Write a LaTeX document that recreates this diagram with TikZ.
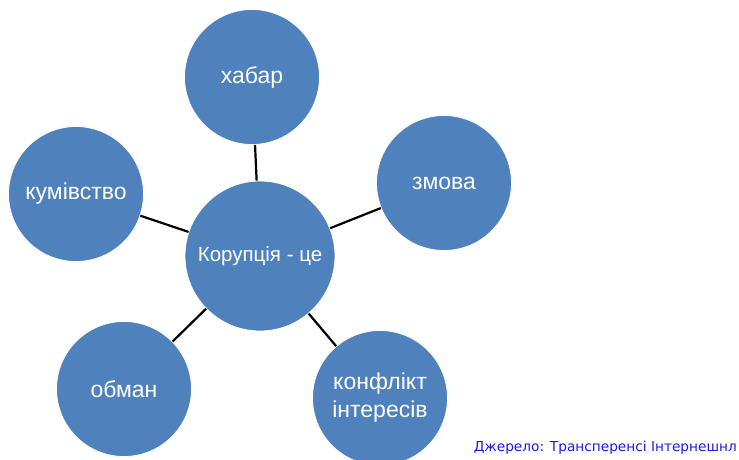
\documentclass[tikz,border=0pt]{standalone}
\usepackage{fontspec}
\setmainfont{Liberation Sans}
\newfontfamily\notefont{DejaVu Sans}
\definecolor{bubble}{HTML}{4F81BD}
\definecolor{noteblue}{HTML}{1A1AE8}
\begin{document}
\begin{tikzpicture}[x=1pt,y=-1pt,
  bubble/.style={circle,fill=bubble,draw=white,line width=0.8pt,inner sep=0pt,
    minimum size=135pt,text=white,align=center,font=\fontsize{23}{28}\selectfont},
  hub/.style={bubble,minimum size=150pt,font=\fontsize{20.5}{24}\selectfont},
  link/.style={draw=black,line width=2.2pt}]
\useasboundingbox (0,0) rectangle (739,459);
% outer ideas
\node[bubble] (khabar) at (252,77) {хабар};
\node[bubble] (zmova) at (444,183) {змова};
\node[bubble] (kumivstvo) at (76,194) {кумівство};
\node[bubble] (obman) at (124,389) {обман};
\node[bubble] (konflikt) at (380,398) {конфлікт\\інтересів};
% central idea
\node[hub] (core) at (260,256) {Корупція - це};
% spokes
\draw[link] (core) -- (khabar);
\draw[link] (core) -- (zmova);
\draw[link] (core) -- (kumivstvo);
\draw[link] (core) -- (obman);
\draw[link] (core) -- (konflikt);
% source note
\node[anchor=base east,inner sep=0pt,text=noteblue,font=\notefont\fontsize{13.7}{16}\selectfont] (source) at (737,451) {Джерело: Трансперенсі Інтернешнл};
\end{tikzpicture}
\end{document}
